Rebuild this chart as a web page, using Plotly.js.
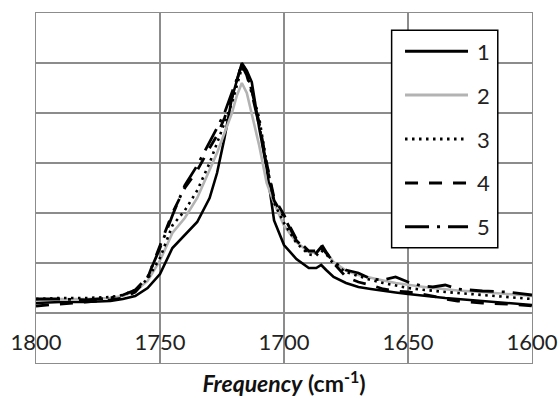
<!DOCTYPE html>
<html><head><meta charset="utf-8">
<script src="https://cdn.plot.ly/plotly-3.0.1.min.js"></script>
<style>html,body{margin:0;padding:0;background:#fff}#chart{width:560px;height:399px}</style>
</head><body><div id="chart"></div>
<script>
// Frequency grid (cm^-1)
const freq = [1800,1790,1780,1770,1765,1760,1755,1750,1745,1740,1735,1730,1727,1724,1721,1719,1717,1715,1713,1710,1707,1704,1700,1695,1690,1687,1685,1683,1680,1675,1670,1665,1660,1655,1650,1645,1640,1635,1630,1620,1610,1600];
// Series values (absorbance, arbitrary units)
const s1 = [0.20,0.22,0.22,0.24,0.28,0.34,0.50,0.78,1.30,1.55,1.82,2.30,2.80,3.50,4.30,4.65,5.00,4.85,4.62,3.70,2.90,1.85,1.36,1.08,0.90,0.90,0.96,0.86,0.72,0.60,0.52,0.48,0.44,0.41,0.38,0.35,0.32,0.30,0.28,0.24,0.20,0.16];
const s2 = [0.26,0.28,0.28,0.30,0.34,0.44,0.64,1.05,1.60,1.90,2.30,2.85,3.20,3.60,4.00,4.35,4.60,4.40,4.00,3.35,2.60,2.20,1.75,1.42,1.22,1.20,1.30,1.22,1.02,0.85,0.76,0.70,0.65,0.60,0.56,0.53,0.50,0.47,0.45,0.42,0.38,0.34];
const s3 = [0.28,0.30,0.30,0.32,0.36,0.46,0.68,1.10,1.75,2.05,2.45,3.00,3.40,3.80,4.20,4.55,4.90,4.80,4.45,3.90,3.00,2.20,1.80,1.40,1.17,1.15,1.25,1.18,0.98,0.82,0.74,0.66,0.60,0.55,0.50,0.47,0.44,0.42,0.40,0.36,0.33,0.28];
const s4 = [0.14,0.18,0.22,0.26,0.30,0.42,0.70,1.35,2.00,2.50,2.85,3.30,3.55,3.90,4.30,4.65,5.00,4.80,4.45,3.80,3.00,2.30,1.96,1.48,1.24,1.24,1.38,1.22,1.00,0.72,0.62,0.56,0.48,0.44,0.42,0.38,0.34,0.28,0.24,0.20,0.18,0.14];
const s5 = [0.28,0.28,0.26,0.30,0.36,0.46,0.72,1.30,1.95,2.55,2.95,3.40,3.70,4.00,4.40,4.70,4.95,4.75,4.40,3.75,2.95,2.25,1.92,1.45,1.20,1.20,1.32,1.20,1.02,0.86,0.80,0.68,0.66,0.72,0.62,0.55,0.52,0.56,0.48,0.44,0.42,0.36];
const seriesValues = [s1, s2, s3, s4, s5];
const seriesNames = ['1','2','3','4','5'];
const xTicks = [1800,1750,1700,1650,1600];

const colors = ['#000000','#b3b3b3','#000000','#000000','#000000'];
const dashes = ['solid','solid','2.5px,4.5px','13px,11px','24px,8px,3px,8px'];
const widths = [2.6,2.6,2.6,2.8,2.8];

const traces = seriesValues.map((v,i)=>({
  x: freq, y: v, type:'scatter', mode:'lines', name: seriesNames[i],
  line:{color:colors[i], width:widths[i], dash:dashes[i]},
  showlegend:false, hoverinfo:'skip'
}));

// custom legend box (paper coordinates)
const legBox = {x0:0.717, x1:0.931, y0:0.329, y1:0.951};
const legLineX = [0.744, 0.871];
const legTextX = 0.885;
const legTopY = 0.891, legStep = 0.1255;
const shapes = [{type:'rect', xref:'paper', yref:'paper', x0:legBox.x0, x1:legBox.x1, y0:legBox.y0, y1:legBox.y1,
  line:{color:'#000', width:1.5}, fillcolor:'#ffffff', layer:'above'}];
const annotations = [];
seriesNames.forEach((n,i)=>{
  const y = legTopY - i*legStep;
  shapes.push({type:'line', xref:'paper', yref:'paper', x0:legLineX[0], x1:legLineX[1], y0:y, y1:y,
    line:{color:colors[i], width:3, dash:dashes[i]}, layer:'above'});
  annotations.push({xref:'paper', yref:'paper', x:legTextX, y:y, xanchor:'left', yanchor:'middle',
    text:n, showarrow:false, font:{size:22, color:'#222'}});
});

const gridC = '#8c8c8c';
const layout = {
  width:560, height:399,
  margin:{l:36, r:28, t:13, b:36},
  paper_bgcolor:'#fff', plot_bgcolor:'#fff',
  font:{family:'Lato, "Open Sans", sans-serif', color:'#222'},
  xaxis:{range:[1800,1600], tickvals:xTicks, ticktext:xTicks.map(String),
    showgrid:true, gridcolor:gridC, gridwidth:1.3, zeroline:false,
    showline:true, mirror:true, linecolor:gridC, linewidth:1.3, ticks:'',
    ticklabelposition:'inside', ticklabeloverflow:'allow', ticklabelstandoff:10,
    tickfont:{size:22, color:'#222'}, automargin:false,
    title:{text:'<b><i>Frequency</i> (cm<sup>-1</sup>)</b>', font:{size:23, color:'#111'}, standoff:22}},
  yaxis:{range:[-1,6], tick0:0, dtick:1, showticklabels:false,
    showgrid:true, gridcolor:gridC, gridwidth:1.3, zeroline:false,
    showline:true, mirror:true, linecolor:gridC, linewidth:1.3, ticks:'', automargin:false},
  shapes: shapes,
  annotations: annotations
};
Plotly.newPlot('chart', traces, layout, {displayModeBar:false, staticPlot:true});
</script>
</body></html>
